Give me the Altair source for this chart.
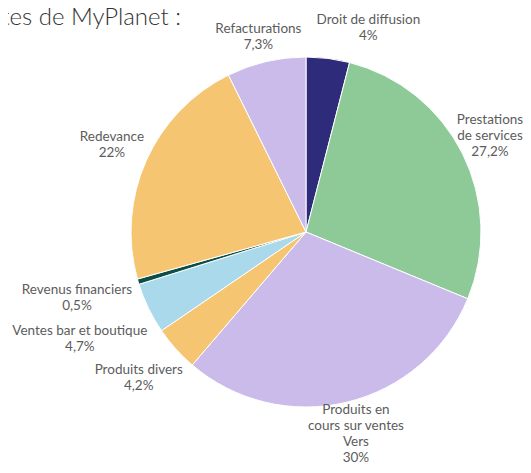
import altair as alt
import pandas as pd

categories = ["Droit de diffusion", "Prestations de services", "Produits en cours sur ventes Vers",
              "Produits divers", "Ventes bar et boutique", "Revenus financiers", "Redevance", "Refacturations"]
values = [4.0, 27.2, 30.0, 4.2, 4.7, 0.5, 22.0, 7.3]
labels = ["Droit de diffusion\n4%", "Prestations\nde services\n27,2%", "Produits en\ncours sur ventes\nVers\n30%",
          "Produits divers\n4,2%", "Ventes bar et boutique\n4,7%", "Revenus financiers\n0,5%",
          "Redevance\n22%", "Refacturations\n7,3%"]
colors = ["#2e2b7a", "#8eca98", "#cbbbea", "#f5c572", "#a9d9ea", "#0b4f47", "#f5c572", "#cbbbea"]
title_text = "Recettes de MyPlanet :"

df = pd.DataFrame({"category": categories, "value": values, "label": labels, "order": range(len(values))})
cum = df["value"].cumsum()
df["mid"] = cum - df["value"] / 2
total = float(df["value"].sum())

CX, CY, R = 298, 224, 175
LH = 16

base = alt.Chart(df)

pie = base.mark_arc(stroke="white", strokeWidth=1, radius=R).encode(
    theta=alt.Theta("value:Q", stack=True, scale=alt.Scale(domain=[0, total])),
    order=alt.Order("order:Q"),
    color=alt.Color("category:N", scale=alt.Scale(domain=categories, range=colors), legend=None),
    x=alt.value(CX), y=alt.value(CY),
)

# label placement tweaks (radius, dx, dy-of-block-centre) per category
tweaks = {
    "Droit de diffusion": (218, 35, 12),
    "Prestations de services": (218, -11, 2),
    "Produits en cours sur ventes Vers": (218, -1, -10),
    "Produits divers": (218, -5, 0),
    "Ventes bar et boutique": (218, -30, 12),
    "Revenus financiers": (218, -20, 4),
    "Redevance": (218, 5, 2),
    "Refacturations": (218, 2, 17),
}

layers = [pie]
for cat, lab in zip(categories, labels):
    r, dx, dy = tweaks[cat]
    n = lab.count("\n")
    layers.append(
        base.transform_filter(alt.datum.category == cat).mark_text(
            radius=r, dx=dx, dy=dy - n * LH / 2, lineBreak="\n", font="Lato", fontSize=13.5,
            color="#5c5c5c", align="center", baseline="middle", lineHeight=LH,
        ).encode(
            theta=alt.Theta("mid:Q", stack=False, scale=alt.Scale(domain=[0, total])),
            text="label:N",
            x=alt.value(CX), y=alt.value(CY),
        )
    )

title = alt.Chart(pd.DataFrame({"t": [title_text]})).mark_text(
    font="Lato", fontSize=24, fontWeight=300, color="#333333", align="right", baseline="alphabetic",
).encode(text="t:N", x=alt.value(173), y=alt.value(17))
layers.append(title)

chart = alt.layer(*layers).properties(
    width=515, height=457, padding=0, autosize=alt.AutoSizeParams(type="none"),
).configure_view(stroke=None)

chart.save("out.html", embed_options={"renderer": "svg", "actions": False})
